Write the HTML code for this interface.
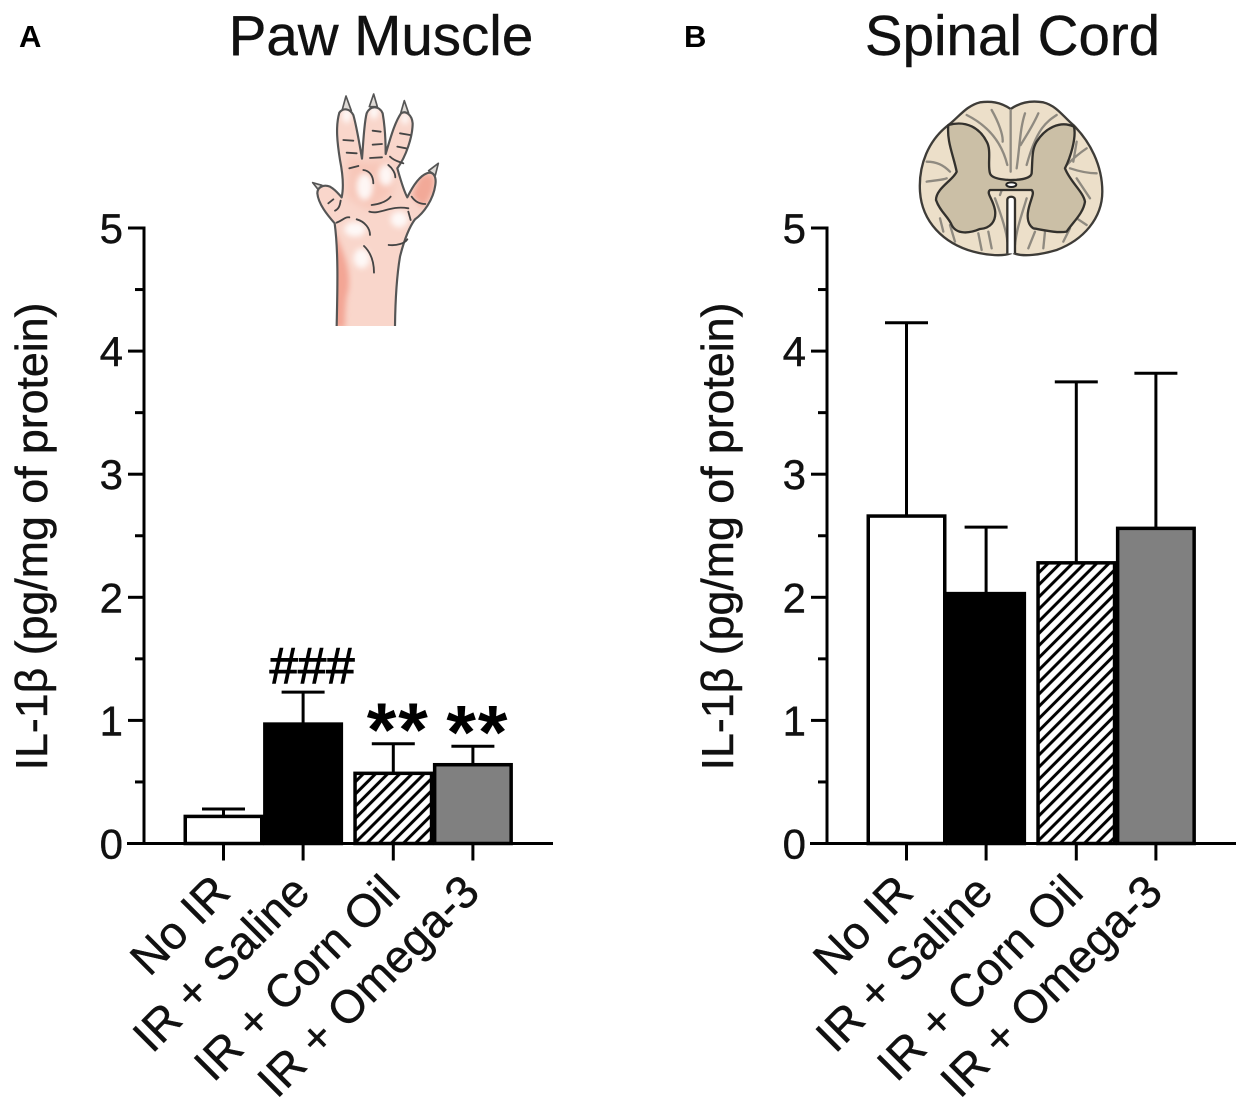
<!DOCTYPE html>
<html><head><meta charset="utf-8"><title>IL-1β in Paw Muscle and Spinal Cord</title>
<style>
html,body{margin:0;padding:0;background:#fff}
svg{display:block;font-family:"Liberation Sans",Arial,sans-serif}
</style></head>
<body>
<svg id="chart" width="1251" height="1113" viewBox="0 0 1251 1113" xmlns="http://www.w3.org/2000/svg">
<defs>
<pattern id="hatch" patternUnits="userSpaceOnUse" width="8.6" height="8.6" patternTransform="rotate(-45)">
<rect width="8.6" height="8.6" fill="#fff"/><rect width="8.6" height="3" y="2.8" fill="#000"/>
</pattern>
<filter id="soft" x="-30%" y="-30%" width="160%" height="160%"><feGaussianBlur stdDeviation="9"/></filter>
<filter id="softer" x="-30%" y="-30%" width="160%" height="160%"><feGaussianBlur stdDeviation="14"/></filter>
<clipPath id="pawClip"><path d="M140 738C142 640 146 520 134 430C112 405 85 372 82 340C82 322 100 312 120 320C138 330 148 345 155 352C162 320 158 280 150 240C142 190 136 140 148 98C160 82 180 86 190 105C200 140 210 200 216 236C220 190 222 130 230 100C240 76 268 76 278 100C285 140 287 190 287 222C297 190 312 130 333 100C347 90 366 105 368 130C368 170 348 230 322 265C332 300 340 330 352 352C365 325 385 290 410 280C430 272 440 290 436 315C430 360 400 400 375 418C355 445 340 490 330 530C320 590 316 660 315 738Z"/></clipPath>
</defs>
<rect width="1251" height="1113" fill="#fff"/>
<text x="19" y="47" font-size="31" font-weight="bold">A</text>
<text x="684" y="47" font-size="31" font-weight="bold">B</text>
<text x="381" y="55" font-size="56.5" text-anchor="middle" fill="#111" stroke="#111" stroke-width="0.4">Paw Muscle</text>
<text x="1012.5" y="55" font-size="56.5" text-anchor="middle" fill="#111" stroke="#111" stroke-width="0.4">Spinal Cord</text>

<g transform="translate(290,80) scale(0.3333)">
<path d="M168 48L156 92L184 92ZM251 42L238 80L262 80ZM343 62L332 100L356 100ZM445 250L416 272L436 286ZM68 308L84 328L96 316Z" fill="#dedad6" stroke="#555" stroke-width="5" stroke-linejoin="round"/>
<path d="M140 738C142 640 146 520 134 430C112 405 85 372 82 340C82 322 100 312 120 320C138 330 148 345 155 352C162 320 158 280 150 240C142 190 136 140 148 98C160 82 180 86 190 105C200 140 210 200 216 236C220 190 222 130 230 100C240 76 268 76 278 100C285 140 287 190 287 222C297 190 312 130 333 100C347 90 366 105 368 130C368 170 348 230 322 265C332 300 340 330 352 352C365 325 385 290 410 280C430 272 440 290 436 315C430 360 400 400 375 418C355 445 340 490 330 530C320 590 316 660 315 738Z" fill="#f9d6cb"/>
<g clip-path="url(#pawClip)">
<path d="M130 450C165 520 190 590 170 650C165 690 165 720 165 745L125 745Z" fill="#f3a594" filter="url(#soft)"/>
<path d="M390 290C430 270 440 290 430 330C420 360 410 375 395 380L365 345Z" fill="#f2a998" filter="url(#soft)"/>
<path d="M175 230L215 245L285 240L320 265L300 350L240 390L170 350Z" fill="#f7c6b8" filter="url(#softer)"/>
<g fill="#fff" fill-opacity="0.85" filter="url(#soft)">
<ellipse cx="224" cy="320" rx="24" ry="40"/><ellipse cx="288" cy="285" rx="22" ry="32"/>
<ellipse cx="328" cy="418" rx="26" ry="24"/><ellipse cx="195" cy="448" rx="32" ry="22"/><ellipse cx="215" cy="535" rx="24" ry="30"/>
<ellipse cx="170" cy="105" rx="14" ry="24"/><ellipse cx="252" cy="95" rx="14" ry="22"/><ellipse cx="345" cy="115" rx="12" ry="18"/>
</g>
</g>
<path d="M140 738C142 640 146 520 134 430C112 405 85 372 82 340C82 322 100 312 120 320C138 330 148 345 155 352C162 320 158 280 150 240C142 190 136 140 148 98C160 82 180 86 190 105C200 140 210 200 216 236C220 190 222 130 230 100C240 76 268 76 278 100C285 140 287 190 287 222C297 190 312 130 333 100C347 90 366 105 368 130C368 170 348 230 322 265C332 300 340 330 352 352C365 325 385 290 410 280C430 272 440 290 436 315C430 360 400 400 375 418C355 445 340 490 330 530C320 590 316 660 315 738" fill="none" stroke="#555" stroke-width="6.5" stroke-linejoin="round"/>
<path d="M160 180L190 182M170 218L200 220M178 265L205 258M248 152L272 155M248 194L276 192M240 234L276 232M330 160L360 165M322 200L348 205M300 230C315 245 330 245 340 250M220 270C240 272 250 290 250 310M295 255C308 265 316 280 316 292M245 375C270 372 290 365 302 350M238 395C270 405 300 375 355 385M355 395L362 420M140 428C160 420 165 410 178 412M200 418C225 425 240 445 240 465M222 498C245 520 252 550 252 578M296 495C320 498 345 490 352 478M115 370L130 358M135 392C150 385 150 370 152 362M365 350C375 365 390 372 406 372" fill="none" stroke="#444" stroke-width="5.5" stroke-linecap="round"/>
</g>

<g transform="translate(900,85) scale(0.3333)">
<path d="M332 72C300 50 270 48 240 52C200 62 180 92 148 118C85 165 55 240 60 320C66 410 130 475 220 500C265 512 310 514 332 505L332 340L342 340L342 505C370 516 420 510 470 495C550 465 607 400 607 320C607 240 570 170 520 120C490 95 470 62 430 52C395 46 360 52 332 72Z" fill="#ecdfc9" stroke="#3e3c38" stroke-width="7"/>
<g fill="none" stroke="#8f8a80" stroke-width="7" stroke-linecap="round">
<path d="M200 90C240 110 300 150 322 240M275 75C295 110 310 150 308 170M332 75L332 260M375 85C360 130 360 180 350 250M415 85C400 120 380 150 362 180M470 90C440 110 410 130 380 240M80 230C110 230 130 240 150 260M80 290C110 285 130 285 140 280M530 170L520 230M560 190C530 210 510 230 500 240M510 250C540 260 570 265 590 265M570 340L530 280M120 400L130 440M150 420L165 470M235 445L245 495M265 440L275 490M285 340C300 380 320 440 322 470M380 340C365 390 350 430 345 480M405 440L385 490M435 440L430 490M510 430L490 470M530 400L560 420M300 330C310 300 320 290 322 285"/>
</g>
<path d="M145 120C200 105 240 130 260 170C275 195 262 240 270 265C276 285 330 285 332 285C340 285 392 285 395 265C398 220 395 195 410 170C435 130 480 105 522 125C530 160 510 220 495 250C510 290 550 320 555 350C550 385 520 410 500 440C470 445 430 435 400 430C385 420 380 400 385 375C392 340 405 325 395 315L270 315C258 325 278 340 285 375C290 410 270 430 240 432C210 445 170 450 155 420C145 395 120 380 108 345C108 310 160 285 170 260C160 210 140 170 145 120Z" fill="#cbbfa6" stroke="#33312d" stroke-width="7" stroke-linejoin="round"/>
<path d="M322 505L322 345C322 332 345 332 345 345L345 505" fill="#fff" stroke="#33312d" stroke-width="7"/>
<ellipse cx="334" cy="299" rx="15" ry="7" fill="#fff" stroke="#222" stroke-width="6"/>
</g>

<g id="panel-a"></g>
<g id="panel-b"></g>
</svg>
<script>
const categories = ['No IR', 'IR + Saline', 'IR + Corn Oil', 'IR + Omega-3'];
const yTickLabels = ['0', '1', '2', '3', '4', '5'];
const yMinorTicks = [0.5, 1.5, 2.5, 3.5, 4.5];
const barFills = ['#fff', '#000', 'url(#hatch)', '#808080'];
const pawMeans = [0.22, 0.97, 0.57, 0.64];
const pawErrors = [0.06, 0.26, 0.24, 0.15];
const pawMarks = ['', '###', '**', '**'];
const cordMeans = [2.66, 2.03, 2.28, 2.56];
const cordErrors = [1.57, 0.54, 1.47, 1.26];

const SVGNS = 'http://www.w3.org/2000/svg';
const yMaxValue = 5;
const yZero = 843.5;
const yTop = 228;
function yScale(v) { return yZero - (v / yMaxValue) * (yZero - yTop); }
function xScale(originX, i) { return originX + 79.5 + i * 79.6 + (i >= 2 ? 10.6 : 0); }
const barWidth = 76.5;

function add(parent, tag, attrs, text) {
  const el = document.createElementNS(SVGNS, tag);
  for (const k in attrs) el.setAttribute(k, attrs[k]);
  if (text !== undefined) el.textContent = text;
  parent.appendChild(el);
  return el;
}

function drawPanel(groupId, originX, titleX, means, errors, marks) {
  const g = document.getElementById(groupId);

  const yTitle = add(g, 'text', {
    transform: 'translate(' + titleX + ',536.5) rotate(-90)',
    'font-size': 44.7, 'text-anchor': 'middle', fill: '#111', stroke: '#111', 'stroke-width': 0.5
  }, 'IL-1β (pg/mg of protein)');
  
  

  means.forEach(function (m, i) {
    const cx = xScale(originX, i);
    const top = yScale(m);
    const errTop = yScale(m + errors[i]);
    const errStem = add(g, 'line', { x1: cx, x2: cx, y1: top, y2: errTop, stroke: '#000', 'stroke-width': 3 });
    
    
    const errCap = add(g, 'line', { x1: cx - 21.5, x2: cx + 21.5, y1: errTop, y2: errTop, stroke: '#000', 'stroke-width': 3 });
    
    
    const bar = add(g, 'rect', {
      x: cx - barWidth / 2, y: top, width: barWidth, height: yZero - top,
      fill: barFills[i], stroke: '#000', 'stroke-width': 3.5
    });
    
    

    const tick = add(g, 'line', { x1: cx, x2: cx, y1: yZero, y2: yZero + 17, stroke: '#000', 'stroke-width': 3 });
    
    

    const lx = cx + 9;
    const ly = yZero + 51;
    const label = add(g, 'text', {
      transform: 'translate(' + lx + ',' + ly + ') rotate(-45)',
      'font-size': 46, 'text-anchor': 'end', fill: '#111', stroke: '#111', 'stroke-width': 0.4
    }, categories[i]);
    
    

    if (marks && marks[i]) {
      const isHash = marks[i].charAt(0) === '#';
      const mark = add(g, 'text', {
        x: cx + (isHash ? 9 : 5),
        y: errTop + (isHash ? -9 : 12),
        'font-size': isHash ? 51 : 76,
        'font-weight': isHash ? 'normal' : 'bold',
        'letter-spacing': isHash ? 0 : 2,
        'stroke': '#000', 'stroke-width': isHash ? 1 : 0,
        'text-anchor': 'middle', fill: '#000'
      }, marks[i]);
      
      
    }
  });

  const yAxis = add(g, 'line', { x1: originX, x2: originX, y1: yTop - 1.5, y2: yZero + 1.5, stroke: '#000', 'stroke-width': 3 });
  
  
  const xAxis = add(g, 'line', { x1: originX - 17, x2: originX + 409, y1: yZero, y2: yZero, stroke: '#000', 'stroke-width': 3 });
  
  

  yTickLabels.forEach(function (t) {
    const y = yScale(Number(t));
    const tick = add(g, 'line', { x1: originX - 16, x2: originX, y1: y, y2: y, stroke: '#000', 'stroke-width': 3 });
    
    
    const label = add(g, 'text', { x: originX - 21, y: y + 15, 'font-size': 42, 'text-anchor': 'end', fill: '#111', stroke: '#111', 'stroke-width': 0.4 }, t);
    
    
  });
  yMinorTicks.forEach(function (v) {
    const y = yScale(v);
    const tick = add(g, 'line', { x1: originX - 9, x2: originX, y1: y, y2: y, stroke: '#000', 'stroke-width': 3 });
    
    
  });
}

drawPanel('panel-a', 144, 47, pawMeans, pawErrors, pawMarks);
drawPanel('panel-b', 827, 733, cordMeans, cordErrors, null);
</script>
</body></html>
